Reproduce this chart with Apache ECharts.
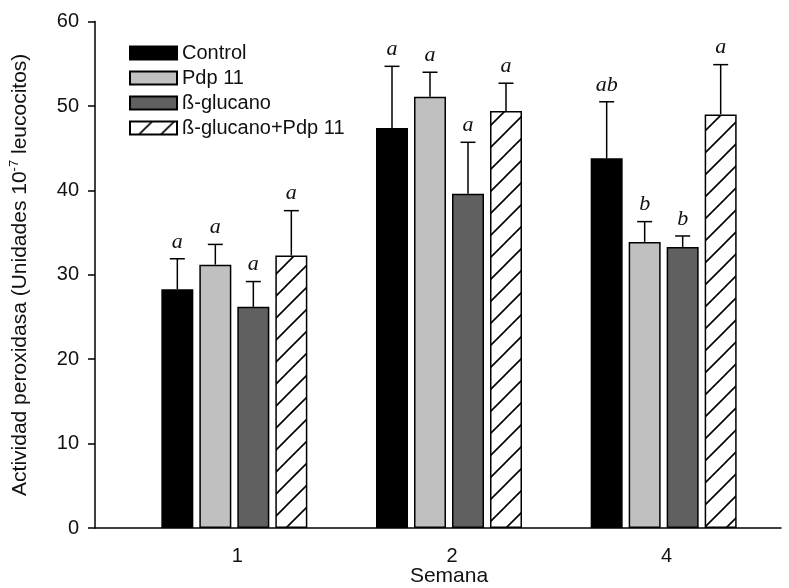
<!DOCTYPE html>
<html>
<head>
<meta charset="utf-8">
<script src="https://cdn.jsdelivr.net/npm/echarts@6/dist/echarts.min.js"></script>
<style>
  html, body { margin: 0; padding: 0; background: #fff; }
  #chart { width: 789px; height: 588px; }
</style>
</head>
<body>
<div id="chart"></div>
<script>
// Weeks of sampling
const weeks = ['1', '2', '4'];

// Treatment groups
const groupNames = ['Control', 'Pdp 11', 'ß-glucano', 'ß-glucano+Pdp 11'];

// Mean peroxidase activity per week
const control    = [28.3, 47.4, 43.8];
const pdp11      = [31.2, 51.1, 33.9];
const glucano    = [26.2, 39.6, 33.3];
const glucanoPdp = [32.3, 49.4, 49.0];

// Standard error (drawn upward only)
const controlErr    = [3.6, 7.3, 6.7];
const pdp11Err      = [2.4, 2.9, 2.4];
const glucanoErr    = [3.0, 6.1, 1.3];
const glucanoPdpErr = [5.3, 3.3, 5.9];

// Significance letters above each bar
const controlSig    = ['a', 'a', 'ab'];
const pdp11Sig      = ['a', 'a', 'b'];
const glucanoSig    = ['a', 'a', 'b'];
const glucanoPdpSig = ['a', 'a', 'a'];

// Y axis ticks
const yMin = 0, yMax = 60, yStep = 10;

const means = [control, pdp11, glucano, glucanoPdp];
const errs = [controlErr, pdp11Err, glucanoErr, glucanoPdpErr];
const sigs = [controlSig, pdp11Sig, glucanoSig, glucanoPdpSig];

const BAR_W = 32;
const BAR_GAP = 6;
const FONT = '"Liberation Sans", Arial, sans-serif';

// Diagonal hatch tile for the combined treatment
function hatchPattern() {
  const s = 22;
  const c = document.createElement('canvas');
  c.width = s; c.height = s;
  const g = c.getContext('2d');
  g.fillStyle = '#fff';
  g.fillRect(0, 0, s, s);
  g.strokeStyle = '#000';
  g.lineWidth = 1.6;
  g.beginPath();
  g.moveTo(-2, s + 2); g.lineTo(s + 2, -2);
  g.moveTo(-2, 2); g.lineTo(2, -2);
  g.moveTo(s - 2, s + 2); g.lineTo(s + 2, s - 2);
  g.stroke();
  return { image: c, repeat: 'repeat' };
}

const fills = ['#000000', '#c0c0c0', '#606060', hatchPattern()];

const barSeries = groupNames.map((name, i) => ({
  name: name,
  type: 'bar',
  xAxisIndex: 0,
  yAxisIndex: 0,
  barWidth: BAR_W,
  barGap: (BAR_GAP / BAR_W * 100) + '%',
  data: means[i],
  itemStyle: { color: fills[i], borderColor: '#000', borderWidth: 1.5 },
  emphasis: { disabled: true },
  z: 2
}));

// Error bars + letters: [weekIndex, groupIndex, mean, err]
const errData = [];
const errLetters = [];
for (let s = 0; s < groupNames.length; s++) {
  for (let c = 0; c < weeks.length; c++) {
    errData.push([c, s, means[s][c], errs[s][c]]);
    errLetters.push(sigs[s][c]);
  }
}

const errSeries = {
  type: 'custom',
  xAxisIndex: 0,
  yAxisIndex: 0,
  z: 5,
  silent: true,
  data: errData,
  renderItem: function (params, api) {
    const c = api.value(0), s = api.value(1), v = api.value(2), e = api.value(3);
    const base = api.coord([c, v]);
    const capPt = api.coord([c, v + e]);
    const dx = (s - (groupNames.length - 1) / 2) * (BAR_W + BAR_GAP);
    const x = base[0] + dx;
    const style = { stroke: '#000', lineWidth: 1.5 };
    return {
      type: 'group',
      children: [
        { type: 'line', shape: { x1: x, y1: base[1], x2: x, y2: capPt[1] }, style: style },
        { type: 'line', shape: { x1: x - 7.5, y1: capPt[1], x2: x + 7.5, y2: capPt[1] }, style: style },
        {
          type: 'text',
          style: {
            text: errLetters[params.dataIndex],
            x: x, y: capPt[1] - 6,
            align: 'center', verticalAlign: 'bottom',
            font: 'italic 22px "Liberation Serif", "Times New Roman", serif',
            fill: '#111'
          }
        }
      ]
    };
  }
};

const chart = echarts.init(document.getElementById('chart'), null, { renderer: 'canvas' });
chart.setOption({
  animation: false,
  backgroundColor: '#fff',
  textStyle: { fontFamily: FONT, color: '#111' },
  legend: {
    orient: 'vertical',
    left: 124,
    top: 38,
    itemWidth: 47,
    itemHeight: 13,
    itemGap: 5,
    icon: 'rect',
    data: groupNames,
    textStyle: { fontSize: 20, color: '#111', padding: 0 },
    selectedMode: false
  },
  grid: [
    { left: 127, right: 18, top: 21.6, bottom: 60, outerBoundsMode: 'none', containLabel: false },
    { left: 95, right: 8, top: 21.6, bottom: 60, outerBoundsMode: 'none', containLabel: false }
  ],
  xAxis: [
    {
      type: 'category',
      gridIndex: 0,
      data: weeks,
      axisLine: { show: false },
      axisTick: { show: false },
      axisLabel: { fontSize: 20, color: '#111', margin: 18, padding: [0, 0, 0, 6] },
      name: 'Semana',
      nameLocation: 'middle',
      nameGap: 38,
      nameMoveOverlap: false,
      nameTextStyle: { fontSize: 21, color: '#111' }
    },
    {
      type: 'value',
      gridIndex: 1,
      min: 0, max: 1,
      axisLine: { show: true, lineStyle: { color: '#000', width: 1.5 } },
      axisTick: { show: false },
      axisLabel: { show: false },
      splitLine: { show: false }
    }
  ],
  yAxis: [
    {
      type: 'value',
      gridIndex: 0,
      min: yMin, max: yMax, interval: yStep,
      show: false
    },
    {
      type: 'value',
      gridIndex: 1,
      min: yMin, max: yMax, interval: yStep,
      axisLine: { show: true, lineStyle: { color: '#000', width: 1.5 } },
      axisTick: { show: true, inside: false, length: 7, lineStyle: { color: '#000', width: 1.5 } },
      axisLabel: { fontSize: 20, color: '#111', margin: 16 },
      splitLine: { show: false },
      name: '{t|Actividad peroxidasa (Unidades 10}{s|-7}{t| leucocitos)}',
      nameLocation: 'middle',
      nameRotate: 90,
      nameGap: 63,
      nameMoveOverlap: false,
      nameTextStyle: {
        rich: {
          t: { fontSize: 21, color: '#111', fontFamily: FONT },
          s: { fontSize: 13, color: '#111', fontFamily: FONT, verticalAlign: 'top', padding: [0, 0, 11, 0] }
        }
      }
    }
  ],
  series: barSeries.concat([errSeries])
});
</script>
</body>
</html>
